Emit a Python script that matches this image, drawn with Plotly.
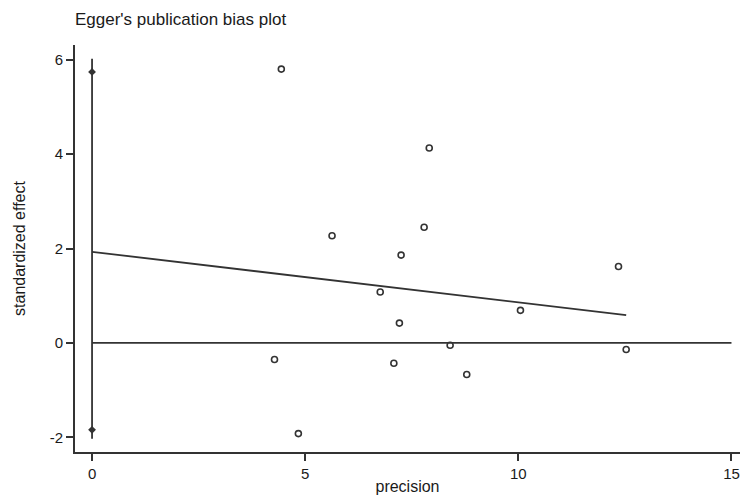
import plotly.graph_objects as go

# Study points (precision, standardized effect)
precision = [4.44, 7.91, 5.63, 7.79, 7.25, 12.35, 6.76, 10.05, 7.21, 8.40, 12.53, 4.28, 7.08, 8.79, 4.84]
std_effect = [5.80, 4.13, 2.27, 2.45, 1.86, 1.62, 1.08, 0.69, 0.42, -0.05, -0.14, -0.35, -0.43, -0.67, -1.92]

# Regression line endpoints
reg_x = [0, 12.53]
reg_y = [1.93, 0.59]

# Intercept CI line and markers
ci_x = [0, 0]
ci_y = [-2.03, 6.02]
ci_mark_y = [-1.84, 5.74]

# Zero reference
zero_x = [0, 15]
zero_y = [0, 0]

x_ticks = [0, 5, 10, 15]
x_ticktext = ["0", "5", "10", "15"]
y_ticks = [-2, 0, 2, 4, 6]
y_ticktext = ["-2", "0", "2", "4", "6"]

col = "#333333"
W, H = 741, 495
fig = go.Figure()
fig.add_trace(go.Scatter(x=zero_x, y=zero_y, mode="lines", line=dict(color=col, width=1.8), hoverinfo="skip"))
fig.add_trace(go.Scatter(x=ci_x, y=ci_y, mode="lines", line=dict(color=col, width=1.8), hoverinfo="skip"))
fig.add_trace(go.Scatter(x=[0, 0], y=ci_mark_y, mode="markers",
                         marker=dict(symbol="diamond", size=6, color=col), hoverinfo="skip"))
fig.add_trace(go.Scatter(x=reg_x, y=reg_y, mode="lines", line=dict(color=col, width=1.8), hoverinfo="skip"))
fig.add_trace(go.Scatter(x=precision, y=std_effect, mode="markers",
                         marker=dict(symbol="circle-open", size=6, color=col, line=dict(width=1.6, color=col))))

fig.update_layout(
    width=W, height=H,
    margin=dict(l=75, r=1, t=45, b=43),
    plot_bgcolor="white", paper_bgcolor="white",
    showlegend=False,
    font=dict(family="Liberation Sans, Arial, sans-serif", size=15, color="#1a1a1a"),
    title=dict(text="Egger's publication bias plot", x=75/W, xanchor="left", y=1 - 19/H, yanchor="middle",
               font=dict(size=17, color="#1a1a1a")),
)
fig.update_xaxes(range=[-0.4, 15.2], tickvals=x_ticks, ticktext=x_ticktext, showgrid=False, zeroline=False,
                 showline=True, linecolor=col, linewidth=2, ticks="outside", ticklen=7, tickwidth=2, tickcolor=col,
                 automargin=False,
                 title=dict(text="precision", standoff=0, font=dict(size=16)))
fig.update_yaxes(range=[-2.31, 6.31], tickvals=y_ticks, ticktext=y_ticktext, showgrid=False, zeroline=False,
                 showline=True, linecolor=col, linewidth=2, ticks="outside", ticklen=7, tickwidth=2, tickcolor=col,
                 automargin=False,
                 title=dict(text="standardized effect", standoff=20, font=dict(size=16)))

fig.write_html("out.html", config={"displayModeBar": False},
               post_script="document.body.style.margin='0';document.body.style.overflow='hidden';")
